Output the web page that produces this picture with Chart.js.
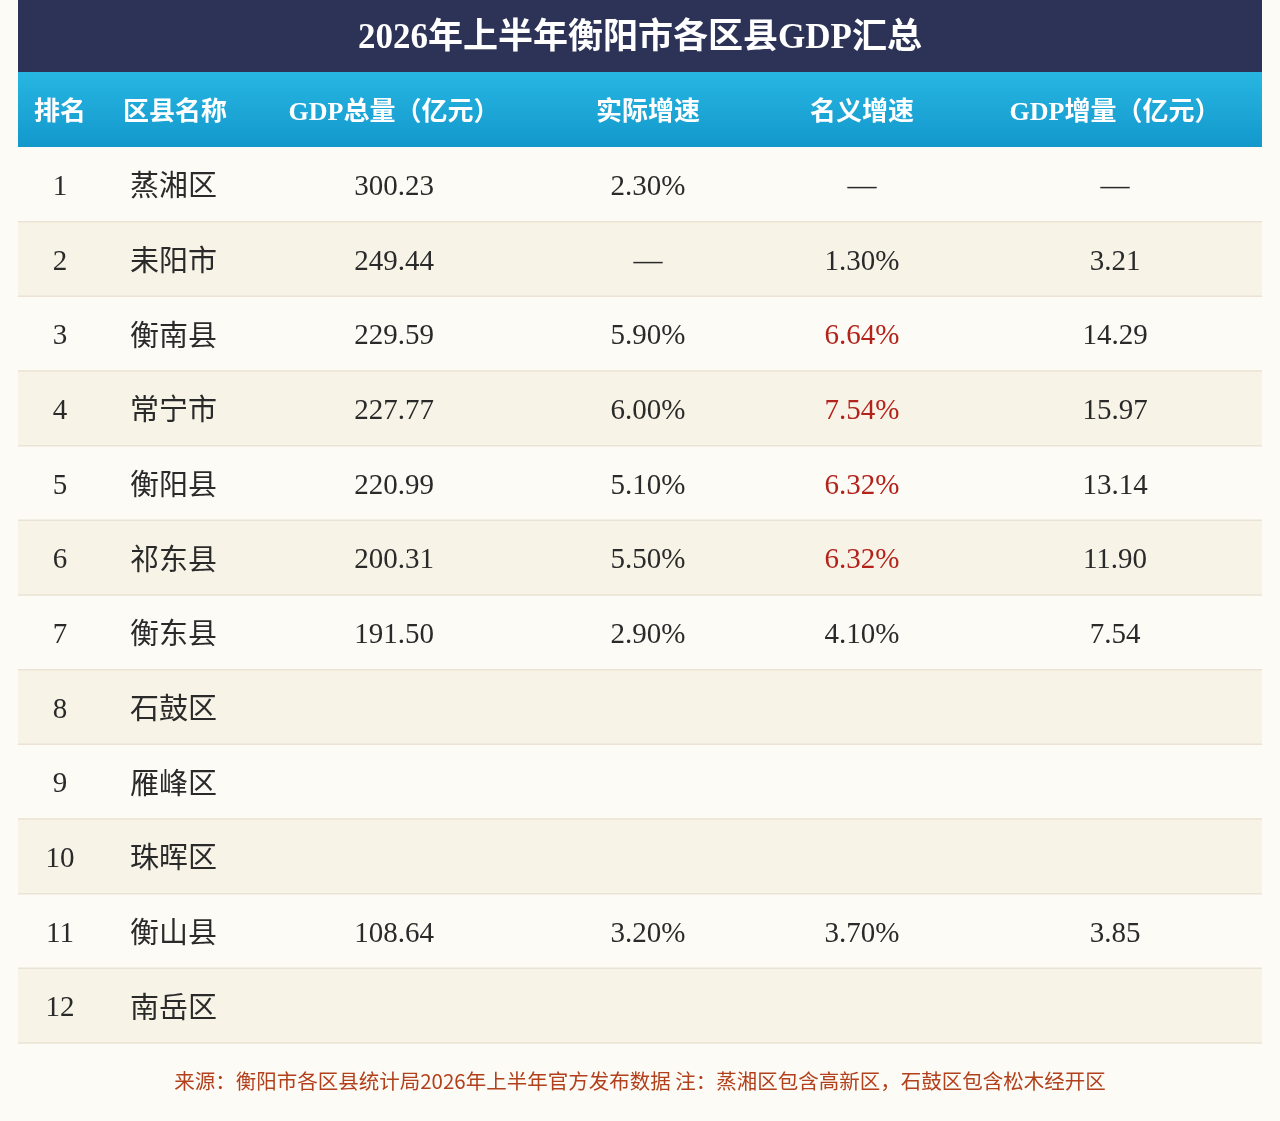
<!DOCTYPE html>
<html><head><meta charset="utf-8">
<script src="https://cdn.jsdelivr.net/npm/chart.js@4/dist/chart.umd.min.js"></script>
<style>html,body{margin:0;padding:0;background:#fdfbf5}#w{width:1280px;height:1121px;position:relative}</style>
</head><body><div id="w"><canvas id="c"></canvas></div>
<script>
const title = '2026年上半年衡阳市各区县GDP汇总';
const headers = ['排名','区县名称','GDP总量（亿元）','实际增速','名义增速','GDP增量（亿元）'];
const ranks = ['1','2','3','4','5','6','7','8','9','10','11','12'];
const districts = ['蒸湘区','耒阳市','衡南县','常宁市','衡阳县','祁东县','衡东县','石鼓区','雁峰区','珠晖区','衡山县','南岳区'];
const gdpTotal = ['300.23','249.44','229.59','227.77','220.99','200.31','191.50','','','','108.64',''];
const realGrowth = ['2.30%','—','5.90%','6.00%','5.10%','5.50%','2.90%','','','','3.20%',''];
const nominalGrowth = ['—','1.30%','6.64%','7.54%','6.32%','6.32%','4.10%','','','','3.70%',''];
const gdpIncrement = ['—','3.21','14.29','15.97','13.14','11.90','7.54','','','','3.85',''];
const highlightNominal = [false,false,true,true,true,true,false,false,false,false,false,false];
const footer = '来源：衡阳市各区县统计局2026年上半年官方发布数据 注：蒸湘区包含高新区，石鼓区包含松木经开区';

const colX = [60,175,394,648,862,1115];
const serif = '"Liberation Serif","Noto Sans CJK SC",serif';
const cjk = '"Noto Sans CJK SC",sans-serif';

const tablePlugin = {
  id:'table',
  beforeDraw(chart){
    const ctx=chart.ctx, a=chart.chartArea;
    ctx.save();
    ctx.fillStyle='#fdfbf5'; ctx.fillRect(0,0,chart.width,chart.height);
    ctx.fillStyle='#2c3357'; ctx.fillRect(a.left,0,a.right-a.left,72);
    const g=ctx.createLinearGradient(0,72,0,147);
    g.addColorStop(0,'#27b6e2'); g.addColorStop(1,'#1398cc');
    ctx.fillStyle=g; ctx.fillRect(a.left,72,a.right-a.left,75);
    ctx.fillStyle='#ffffff'; ctx.textAlign='center'; ctx.textBaseline='middle';
    ctx.font='bold 35px '+serif; ctx.fillText(title,640,39);
    ctx.font='bold 26px '+serif;
    headers.forEach((h,i)=>{ctx.fillText(h, colX[i], 113);});
    ctx.fillStyle='#b2401c'; ctx.font='20.5px '+cjk; ctx.fillText(footer,640,1081);
    ctx.restore();
  },
  afterDatasetsDraw(chart){
    const ctx=chart.ctx, y=chart.scales.y, a=chart.chartArea;
    ctx.save(); ctx.textBaseline='middle';
    const h=(a.bottom-a.top)/ranks.length;
    ranks.forEach((r,i)=>{
      const py=y.getPixelForValue(i);
      ctx.strokeStyle='#ebe3d3'; ctx.lineWidth=1.5;
      ctx.beginPath(); ctx.moveTo(a.left,py+h/2); ctx.lineTo(a.right,py+h/2); ctx.stroke();
      ctx.fillStyle='#2a2a2a'; ctx.textAlign='center';
      ctx.font='29px '+serif; ctx.fillText(r,colX[0],py+3);
      ctx.font='29px '+cjk; ctx.textAlign='left'; ctx.fillText(districts[i],130,py+1);
      ctx.textAlign='center'; ctx.font='29px '+serif;
      ctx.fillText(gdpTotal[i],colX[2],py+3);
      ctx.fillText(realGrowth[i],colX[3],py+3);
      ctx.fillStyle=highlightNominal[i]?'#b3231c':'#2a2a2a';
      ctx.fillText(nominalGrowth[i],colX[4],py+3);
      ctx.fillStyle='#2a2a2a';
      ctx.fillText(gdpIncrement[i],colX[5],py+3);
    });
    ctx.restore();
  }
};

new Chart(document.getElementById('c'),{
  type:'bar',
  data:{labels:ranks,datasets:[{
    data:ranks.map(()=>[0,1]),
    backgroundColor:ranks.map((r,i)=>i%2===0?'#fdfbf6':'#f8f3e7'),
    categoryPercentage:1,barPercentage:1,borderWidth:0
  }]},
  options:{indexAxis:'y',responsive:true,maintainAspectRatio:false,animation:false,
    layout:{padding:{left:18,right:18,top:147,bottom:78}},
    plugins:{legend:{display:false},tooltip:{enabled:false}},
    scales:{x:{display:false,min:0,max:1},y:{display:false}}},
  plugins:[tablePlugin]
});
</script></body></html>
